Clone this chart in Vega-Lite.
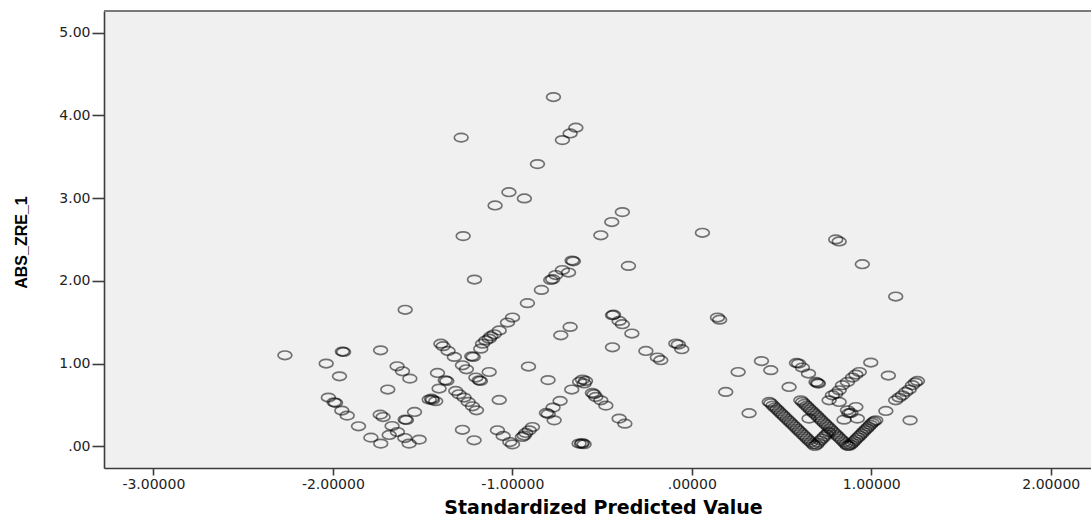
{
  "$schema": "https://vega.github.io/schema/vega-lite/v6.json",
  "autosize": {"type": "none"},
  "padding": {"left": 104, "top": 11, "right": 0, "bottom": 49},
  "width": 987,
  "height": 457,
  "background": "#ffffff",
  "config": {
    "view": {"fill": "#f0f0f0", "stroke": null},
    "axis": {
      "grid": false,
      "domainColor": "#3c3c3c",
      "domainWidth": 1.6,
      "tickColor": "#3c3c3c",
      "tickWidth": 1.6,
      "labelFont": "DejaVu Sans",
      "labelFontSize": 14,
      "labelColor": "#222222",
      "titleColor": "#000000"
    }
  },
  "data": {
    "values": [
      {"pred": -0.771, "abs": 4.22}, {"pred": -0.646, "abs": 3.85}, {"pred": -0.678, "abs": 3.78}, {"pred": -0.721, "abs": 3.70},
      {"pred": -1.285, "abs": 3.73}, {"pred": -0.860, "abs": 3.41}, {"pred": -1.019, "abs": 3.07}, {"pred": -0.933, "abs": 2.995},
      {"pred": -1.096, "abs": 2.91}, {"pred": -0.387, "abs": 2.83}, {"pred": -0.446, "abs": 2.71}, {"pred": -0.507, "abs": 2.55},
      {"pred": -1.274, "abs": 2.54}, {"pred": 0.059, "abs": 2.58}, {"pred": -0.667, "abs": 2.245}, {"pred": -0.660, "abs": 2.235},
      {"pred": -0.721, "abs": 2.13}, {"pred": -0.687, "abs": 2.10}, {"pred": -0.758, "abs": 2.07}, {"pred": -0.786, "abs": 2.01},
      {"pred": -0.775, "abs": 2.02}, {"pred": -1.211, "abs": 2.015}, {"pred": -0.838, "abs": 1.89}, {"pred": -0.916, "abs": 1.73},
      {"pred": -0.999, "abs": 1.556}, {"pred": -1.597, "abs": 1.65}, {"pred": -0.442, "abs": 1.584}, {"pred": -0.436, "abs": 1.59},
      {"pred": -0.353, "abs": 2.18}, {"pred": 0.802, "abs": 2.50}, {"pred": 0.821, "abs": 2.475}, {"pred": 0.950, "abs": 2.20},
      {"pred": 1.136, "abs": 1.81}, {"pred": 0.143, "abs": 1.556}, {"pred": 0.155, "abs": 1.53}, {"pred": -0.405, "abs": 1.515},
      {"pred": -0.387, "abs": 1.475}, {"pred": -0.334, "abs": 1.363}, {"pred": -0.442, "abs": 1.197}, {"pred": -0.256, "abs": 1.152},
      {"pred": -0.192, "abs": 1.073}, {"pred": -0.173, "abs": 1.04}, {"pred": -0.089, "abs": 1.242}, {"pred": -0.075, "abs": 1.23},
      {"pred": -0.056, "abs": 1.173}, {"pred": -0.678, "abs": 1.443}, {"pred": -0.730, "abs": 1.342}, {"pred": -0.910, "abs": 0.964},
      {"pred": -0.801, "abs": 0.80}, {"pred": -1.073, "abs": 0.56}, {"pred": -1.027, "abs": 1.496}, {"pred": -1.073, "abs": 1.40},
      {"pred": -1.101, "abs": 1.354}, {"pred": -1.12, "abs": 1.33}, {"pred": -1.129, "abs": 1.30}, {"pred": -1.148, "abs": 1.28},
      {"pred": -1.166, "abs": 1.24}, {"pred": -1.176, "abs": 1.18},
      {"pred": -0.609, "abs": 0.806}, {"pred": -0.625, "abs": 0.78}, {"pred": -0.592, "abs": 0.79}, {"pred": -0.600, "abs": 0.76},
      {"pred": -0.669, "abs": 0.686}, {"pred": -0.554, "abs": 0.645}, {"pred": -0.545, "abs": 0.63}, {"pred": -0.535, "abs": 0.596},
      {"pred": -0.507, "abs": 0.556}, {"pred": -0.479, "abs": 0.492}, {"pred": -0.405, "abs": 0.335}, {"pred": -0.373, "abs": 0.274},
      {"pred": -0.734, "abs": 0.548}, {"pred": -0.773, "abs": 0.468}, {"pred": -0.810, "abs": 0.403}, {"pred": -0.800, "abs": 0.39},
      {"pred": -0.767, "abs": 0.314}, {"pred": -1.083, "abs": 0.194}, {"pred": -1.051, "abs": 0.125}, {"pred": -1.014, "abs": 0.052},
      {"pred": -0.999, "abs": 0.024}, {"pred": -0.944, "abs": 0.113}, {"pred": -0.925, "abs": 0.161}, {"pred": -0.906, "abs": 0.193},
      {"pred": -0.888, "abs": 0.233}, {"pred": -0.934, "abs": 0.13}, {"pred": -0.628, "abs": 0.033}, {"pred": -0.615, "abs": 0.03},
      {"pred": -0.600, "abs": 0.025}, {"pred": -0.610, "abs": 0.04},
      {"pred": -2.267, "abs": 1.10}, {"pred": -1.947, "abs": 1.145}, {"pred": -1.940, "abs": 1.14}, {"pred": -1.734, "abs": 1.16},
      {"pred": -2.037, "abs": 1.00}, {"pred": -1.963, "abs": 0.846}, {"pred": -1.642, "abs": 0.967}, {"pred": -1.612, "abs": 0.907},
      {"pred": -1.571, "abs": 0.818}, {"pred": -1.694, "abs": 0.686}, {"pred": -2.025, "abs": 0.589}, {"pred": -1.993, "abs": 0.532},
      {"pred": -1.985, "abs": 0.525}, {"pred": -1.950, "abs": 0.432}, {"pred": -1.920, "abs": 0.371}, {"pred": -1.857, "abs": 0.242},
      {"pred": -1.788, "abs": 0.105}, {"pred": -1.733, "abs": 0.033}, {"pred": -1.736, "abs": 0.383}, {"pred": -1.720, "abs": 0.354},
      {"pred": -1.686, "abs": 0.137}, {"pred": -1.670, "abs": 0.245}, {"pred": -1.640, "abs": 0.173}, {"pred": -1.597, "abs": 0.323},
      {"pred": -1.590, "abs": 0.318}, {"pred": -1.599, "abs": 0.10}, {"pred": -1.575, "abs": 0.033}, {"pred": -1.519, "abs": 0.081},
      {"pred": -1.545, "abs": 0.415}, {"pred": -1.417, "abs": 0.886}, {"pred": -1.408, "abs": 0.698}, {"pred": -1.374, "abs": 0.798},
      {"pred": -1.365, "abs": 0.79}, {"pred": -1.463, "abs": 0.565}, {"pred": -1.445, "abs": 0.56}, {"pred": -1.427, "abs": 0.545},
      {"pred": -1.450, "abs": 0.575}, {"pred": -1.398, "abs": 1.24}, {"pred": -1.386, "abs": 1.21}, {"pred": -1.358, "abs": 1.152},
      {"pred": -1.323, "abs": 1.08}, {"pred": -1.278, "abs": 0.979}, {"pred": -1.256, "abs": 0.931}, {"pred": -1.315, "abs": 0.669},
      {"pred": -1.297, "abs": 0.629}, {"pred": -1.269, "abs": 0.589}, {"pred": -1.246, "abs": 0.536}, {"pred": -1.222, "abs": 0.484},
      {"pred": -1.200, "abs": 0.435}, {"pred": -1.226, "abs": 1.088}, {"pred": -1.218, "abs": 1.08}, {"pred": -1.203, "abs": 0.831},
      {"pred": -1.185, "abs": 0.798}, {"pred": -1.178, "abs": 0.79}, {"pred": -1.129, "abs": 0.898}, {"pred": -1.278, "abs": 0.20},
      {"pred": -1.213, "abs": 0.073},
      {"pred": 0.189, "abs": 0.657}, {"pred": 0.258, "abs": 0.898}, {"pred": 0.319, "abs": 0.40}, {"pred": 0.388, "abs": 1.03},
      {"pred": 0.44, "abs": 0.92}, {"pred": 0.542, "abs": 0.717}, {"pred": 0.583, "abs": 1.007}, {"pred": 0.595, "abs": 1.0},
      {"pred": 0.616, "abs": 0.952}, {"pred": 0.65, "abs": 0.879}, {"pred": 0.692, "abs": 0.778}, {"pred": 0.705, "abs": 0.758},
      {"pred": 0.70, "abs": 0.766}, {"pred": 0.653, "abs": 0.335}, {"pred": 0.997, "abs": 1.012}, {"pred": 1.095, "abs": 0.855},
      {"pred": 0.933, "abs": 0.898}, {"pred": 0.914, "abs": 0.867}, {"pred": 0.895, "abs": 0.831}, {"pred": 0.867, "abs": 0.778},
      {"pred": 0.839, "abs": 0.738}, {"pred": 0.821, "abs": 0.677}, {"pred": 0.802, "abs": 0.637}, {"pred": 0.783, "abs": 0.617},
      {"pred": 0.765, "abs": 0.556}, {"pred": 0.821, "abs": 0.536}, {"pred": 0.867, "abs": 0.435}, {"pred": 0.886, "abs": 0.403},
      {"pred": 0.914, "abs": 0.475}, {"pred": 0.922, "abs": 0.335}, {"pred": 0.848, "abs": 0.322}, {"pred": 0.875, "abs": 0.40},
      {"pred": 1.081, "abs": 0.427}, {"pred": 1.216, "abs": 0.314}, {"pred": 1.136, "abs": 0.556}, {"pred": 1.155, "abs": 0.589},
      {"pred": 1.173, "abs": 0.617}, {"pred": 1.192, "abs": 0.657}, {"pred": 1.211, "abs": 0.686}, {"pred": 1.229, "abs": 0.738},
      {"pred": 1.257, "abs": 0.79}, {"pred": 1.245, "abs": 0.77},
      {"pred": 0.431, "abs": 0.536}, {"pred": 0.440, "abs": 0.520}, {"pred": 0.452, "abs": 0.493}, {"pred": 0.463, "abs": 0.470},
      {"pred": 0.474, "abs": 0.447}, {"pred": 0.485, "abs": 0.424}, {"pred": 0.496, "abs": 0.400}, {"pred": 0.507, "abs": 0.378},
      {"pred": 0.518, "abs": 0.355}, {"pred": 0.530, "abs": 0.330}, {"pred": 0.541, "abs": 0.307}, {"pred": 0.552, "abs": 0.284},
      {"pred": 0.563, "abs": 0.260}, {"pred": 0.575, "abs": 0.236}, {"pred": 0.586, "abs": 0.212}, {"pred": 0.597, "abs": 0.189},
      {"pred": 0.608, "abs": 0.166}, {"pred": 0.620, "abs": 0.141}, {"pred": 0.631, "abs": 0.118}, {"pred": 0.642, "abs": 0.094},
      {"pred": 0.653, "abs": 0.071}, {"pred": 0.664, "abs": 0.048}, {"pred": 0.675, "abs": 0.025}, {"pred": 0.685, "abs": 0.004},
      {"pred": 0.695, "abs": 0.020}, {"pred": 0.705, "abs": 0.045}, {"pred": 0.716, "abs": 0.070}, {"pred": 0.727, "abs": 0.095},
      {"pred": 0.738, "abs": 0.120}, {"pred": 0.750, "abs": 0.145}, {"pred": 0.762, "abs": 0.170},
      {"pred": 0.607, "abs": 0.556}, {"pred": 0.617, "abs": 0.535}, {"pred": 0.628, "abs": 0.512}, {"pred": 0.639, "abs": 0.489},
      {"pred": 0.650, "abs": 0.466}, {"pred": 0.661, "abs": 0.443}, {"pred": 0.672, "abs": 0.420}, {"pred": 0.683, "abs": 0.397},
      {"pred": 0.694, "abs": 0.374}, {"pred": 0.705, "abs": 0.350}, {"pred": 0.716, "abs": 0.327}, {"pred": 0.727, "abs": 0.304},
      {"pred": 0.738, "abs": 0.281}, {"pred": 0.749, "abs": 0.258}, {"pred": 0.760, "abs": 0.235}, {"pred": 0.771, "abs": 0.212},
      {"pred": 0.782, "abs": 0.189}, {"pred": 0.793, "abs": 0.165}, {"pred": 0.804, "abs": 0.142}, {"pred": 0.815, "abs": 0.119},
      {"pred": 0.826, "abs": 0.096}, {"pred": 0.837, "abs": 0.073}, {"pred": 0.848, "abs": 0.050}, {"pred": 0.858, "abs": 0.027},
      {"pred": 0.867, "abs": 0.008}, {"pred": 0.875, "abs": 0.004},
      {"pred": 0.885, "abs": 0.020}, {"pred": 0.895, "abs": 0.040}, {"pred": 0.905, "abs": 0.062}, {"pred": 0.915, "abs": 0.085},
      {"pred": 0.925, "abs": 0.106}, {"pred": 0.935, "abs": 0.128}, {"pred": 0.945, "abs": 0.150}, {"pred": 0.955, "abs": 0.172},
      {"pred": 0.965, "abs": 0.195}, {"pred": 0.975, "abs": 0.216}, {"pred": 0.985, "abs": 0.238}, {"pred": 0.995, "abs": 0.260},
      {"pred": 1.005, "abs": 0.282}, {"pred": 1.015, "abs": 0.300}, {"pred": 1.025, "abs": 0.314}
    ]
  },
  "layer": [
    {
      "mark": {"type": "rule", "color": "#7a7a7a", "strokeWidth": 1.3},
      "encoding": {"y": {"datum": 5.26, "type": "quantitative"}}
    },
    {
      "mark": {
        "type": "point",
        "shape": "M-1,0A1,0.62 0 1,1 1,0A1,0.62 0 1,1 -1,0Z",
        "size": 190,
        "filled": false,
        "stroke": "#000000",
        "strokeOpacity": 0.75,
        "strokeWidth": 1.7
      },
      "encoding": {
        "x": {
          "field": "pred", "type": "quantitative",
          "scale": {"domain": [-3.275, 2.224], "nice": false, "zero": false},
          "axis": {
            "values": [-3, -2, -1, 0, 1, 2],
            "labelExpr": "datum.value == 0 ? '.00000' : replace(format(datum.value, '.5f'), '−', '-')",
            "tickSize": 7, "labelPadding": 2,
            "title": "Standardized Predicted Value",
            "titleFont": "DejaVu Sans", "titleFontSize": 19, "titleFontWeight": "bold",
            "titleBaseline": "alphabetic", "titleX": 499, "titleY": 45.5
          }
        },
        "y": {
          "field": "abs", "type": "quantitative",
          "scale": {"domain": [-0.262, 5.26], "nice": false, "zero": false},
          "axis": {
            "values": [0, 1, 2, 3, 4, 5],
            "labelExpr": "datum.value == 0 ? '.00' : format(datum.value, '.2f')",
            "tickSize": 12, "labelPadding": 2,
            "title": "ABS_ZRE_1",
            "titleFont": "Liberation Sans", "titleFontSize": 16, "titleFontWeight": "bold",
            "titleBaseline": "alphabetic", "titleAngle": -90, "titleX": -78, "titleY": 231, "titleAlign": "center"
          }
        }
      }
    }
  ]
}
